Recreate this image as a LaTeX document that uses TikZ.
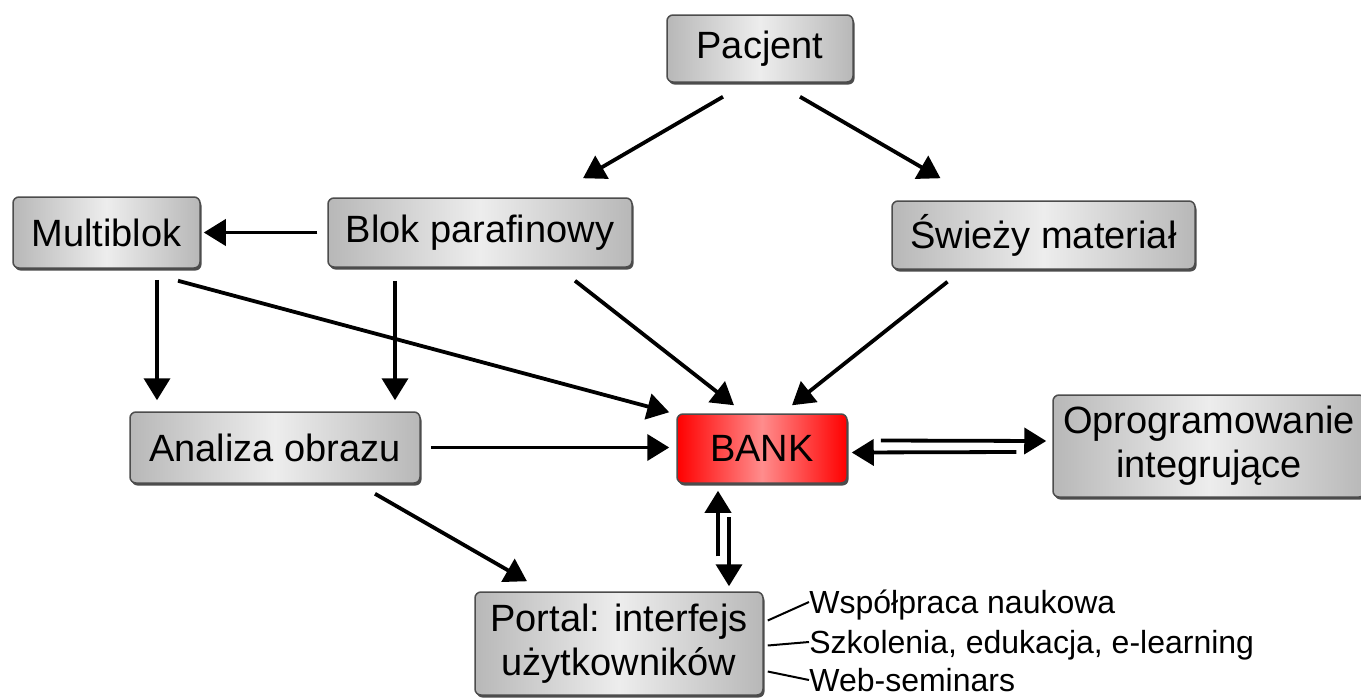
\documentclass[tikz,border=0pt]{standalone}
\usepackage{fontspec}
\setmainfont{Liberation Sans}
\usetikzlibrary{arrows.meta,shadows,calc}

\tikzset{every picture/.style={line width=0.75pt}}
\tikzset{
  graybox/.style={draw=black!70, line width=1.5pt, rounded corners=6pt,
    left color=black!28, right color=black!28, middle color=black!7,
    align=center, inner sep=0pt, font=\fontsize{38}{44}\selectfont,
    drop shadow={shadow xshift=1.5pt, shadow yshift=-2.5pt, fill=black!70, opacity=1}},
  redbox/.style={graybox, left color=red, right color=red, middle color=red!45},
  bigarrow/.style={line width=3.8pt, -{Triangle[length=22pt,width=26pt]}},
  sideline/.style={line width=2pt},
  sidetext/.style={anchor=west, inner sep=0pt, text height=23.6pt, text depth=0pt,
    font=\fontsize{32}{36}\selectfont},
}

\begin{document}
\begin{tikzpicture}[x=1pt,y=-1pt]
\useasboundingbox (0,0) rectangle (1361,697);

% Boxes
\node[graybox, minimum width=186pt, minimum height=67pt] (pac) at (760,48.5) {Pacjent};
\node[graybox, minimum width=187pt, minimum height=71pt] (multi) at (106.5,232.5) {Multiblok};
\node[graybox, minimum width=304pt, minimum height=69pt] (blok) at (480,232.5) {Blok parafinowy};
\node[graybox, minimum width=303pt, minimum height=68pt] (swiezy) at (1043.5,235) {Świeży materiał};
\node[graybox, minimum width=290pt, minimum height=71pt] (analiza) at (275,447.5) {Analiza obrazu};
\node[redbox, minimum width=170pt, minimum height=69pt] (bank) at (762,448.5) {BANK};
\node[graybox, minimum width=312pt, minimum height=102pt] (oprog) at (1209,446) {Oprogramowanie\\integrujące};
\node[graybox, minimum width=288pt, minimum height=103pt] (portal) at (619,643.5) {Portal: interfejs\\użytkowników};

% Text Node
\node[sidetext] (wsp) at (809,602) {Współpraca naukowa};
% Text Node
\node[sidetext] (szk) at (809,642) {Szkolenia, edukacja, e-learning};
% Text Node
\node[sidetext] (web) at (809,680) {Web-seminars};

%Straight Lines
\draw[bigarrow] ($(pac.south)+(-37,14)$) -- ($(blok.north)+(103,-19)$);
\draw[bigarrow] ($(pac.south)+(40,14)$) -- ($(swiezy.north)+(-103,-22)$);
\draw[bigarrow] ($(blok.west)+(-10,0)$) -- ($(multi.east)+(3,0)$);
\draw[bigarrow] ($(multi.south)+(50.5,11)$) -- ($(analiza.north)+(-118,-11)$);
\draw[bigarrow] ($(multi.south)+(71.5,12)$) -- ($(bank.north west)+(-7,-1)$);
\draw[bigarrow] ($(blok.south)+(-85,13)$) -- ($(analiza.north)+(120,-11)$);
\draw[bigarrow] ($(blok.south)+(95,13)$) -- ($(bank.north)+(-28,-8)$);
\draw[bigarrow] ($(swiezy.south)+(-96,12)$) -- ($(bank.north)+(30,-8)$);
\draw[bigarrow] ($(analiza.east)+(10,0)$) -- ($(bank.west)+(-7,-1)$);
\draw[bigarrow] ($(analiza.south)+(100,10)$) -- ($(portal.north)+(-92,-10)$);

% double arrows at BANK
\draw[bigarrow] ($(bank.east)+(33,-8)$) -- ($(oprog.west)+(-6,-5)$);
\draw[bigarrow] ($(oprog.west)+(-36,6)$) -- ($(bank.east)+(4,4)$);
\draw[bigarrow] ($(portal.north)+(99,-35)$) -- ($(bank.south)+(-44,7)$);
\draw[bigarrow] ($(bank.south)+(-33,33)$) -- ($(portal.north)+(110,-5)$);

% Portal lines
\draw[sideline] ($(portal.east)+(4,-23)$) -- (wsp.west);
\draw[sideline] ($(portal.east)+(4,2)$) -- (szk.west);
\draw[sideline] ($(portal.east)+(4,28)$) -- (web.west);
\end{tikzpicture}
\end{document}
